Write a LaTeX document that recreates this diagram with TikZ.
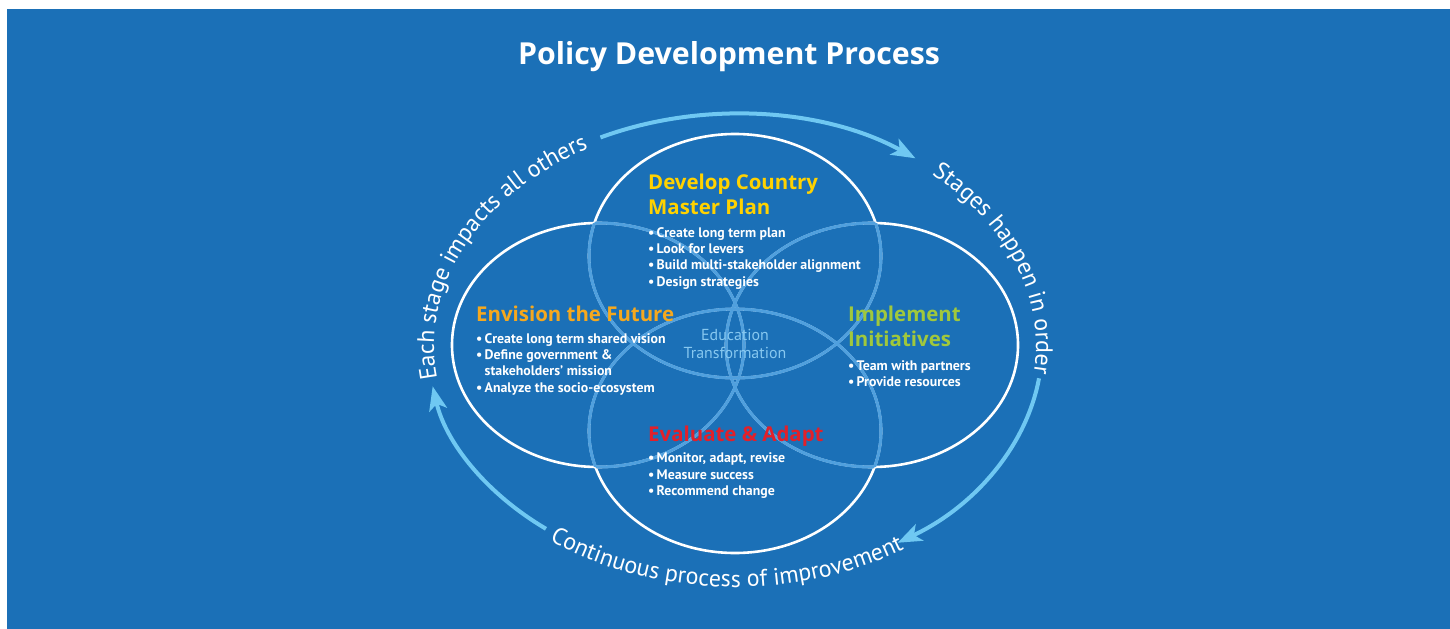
\documentclass[tikz,border=0pt]{standalone}
\usepackage{fontspec}
\setmainfont{PT Sans}
\newfontfamily\headfont{Open Sans}
\usetikzlibrary{positioning,calc,arrows.meta,decorations.text}
\definecolor{bgblue}{RGB}{27,112,183}
\definecolor{arrowblue}{RGB}{111,200,242}
\definecolor{innerblue}{RGB}{80,160,222}
\definecolor{edublue}{RGB}{135,200,240}
\definecolor{headyellow}{RGB}{255,210,0}
\definecolor{headorange}{RGB}{245,168,30}
\definecolor{headgreen}{RGB}{160,200,60}
\definecolor{headred}{RGB}{226,32,42}
\newcommand{\bul}{\makebox[8.5bp][l]{\textbullet}}
\newcommand{\bulgap}{\hspace*{8.5bp}}
\begin{document}
\begin{tikzpicture}[
    x=1bp, y=-1bp,
    petal/.style={x radius=146, y radius=122},
    outline/.style={draw=white, line width=2.6bp},
    inner/.style={draw=innerblue, line width=3bp},
    flow/.style={draw=arrowblue, line width=4bp, -{Stealth[length=24bp,width=18bp,inset=6bp]}},
    head/.style={font=\headfont\bfseries\fontsize{20.5}{25}\selectfont, align=left, inner sep=0pt, anchor=north west},
    items/.style={font=\bfseries\fontsize{13.9}{16.4}\selectfont, text=white, align=left, inner sep=0pt},
    curved/.style={decorate, decoration={text along path, text align=center, text color=white,
        text={|\fontsize{24}{24}\selectfont|#1}}}
  ]
  % Frame
  \fill[white] (0,0) rectangle (1450,629);
  \fill[bgblue] (7,9) rectangle (1450,629);
  \useasboundingbox (0,0) rectangle (1450,629);

  \node[font=\headfont\bfseries\fontsize{30.4}{30.4}\selectfont, text=white] (title) at (729,57) {Policy Development Process};

  % Petals
  \coordinate (ctr) at (735,346);
  \coordinate (cTop) at (735,256);
  \coordinate (cBot) at (735,431);
  \coordinate (cLeft) at (598,345);
  \coordinate (cRight) at (872,345);
  \foreach \p in {cTop,cLeft,cRight,cBot}
    \draw[outline] (\p) ellipse [petal];
  \foreach \me/\a/\b/\o in {cTop/cLeft/cRight/cBot, cLeft/cTop/cRight/cBot,
                            cRight/cTop/cLeft/cBot, cBot/cTop/cLeft/cRight}{
    \begin{scope}
      \clip (\a) ellipse [petal] (\b) ellipse [petal] (\o) ellipse [petal];
      \draw[inner] (\me) ellipse [petal];
    \end{scope}
  }

  % Stages
  \node[head, text=headyellow] (devH) at (648,174) {Develop Country\\Master Plan};
  \node[items, below=12bp of devH.south west, anchor=north west] (devL)
    {\bul Create long term plan\\\bul Look for levers\\\bul Build multi-stakeholder alignment\\\bul Design strategies};
  \node[head, text=headorange] (envH) at (476,306) {Envision the Future};
  \node[items, below=11bp of envH.south west, anchor=north west] (envL)
    {\bul Create long term shared vision\\\bul Define government \&\\\bulgap stakeholders’ mission\\\bul Analyze the socio-ecosystem};
  \node[head, text=headgreen] (impH) at (848,306) {Implement\\Initiatives};
  \node[items, below=13bp of impH.south west, anchor=north west] (impL)
    {\bul Team with partners\\\bul Provide resources};
  \node[head, text=headred] (evaH) at (648,426) {Evaluate \& Adapt};
  \node[items, below=6bp of evaH.south west, anchor=north west] (evaL)
    {\bul Monitor, adapt, revise\\\bul Measure success\\\bul Recommend change};
  \node[font=\fontsize{16}{17.5}\selectfont, text=edublue, align=center] (edu) at (735,344) {Education\\Transformation};

  % Cycle
  \draw[flow] ($(ctr)+(244:307 and 232)$) arc [start angle=244, end angle=306, x radius=307, y radius=232];
  \draw[flow] ($(ctr)+(8:307 and 232)$) arc [start angle=8, end angle=58, x radius=307, y radius=232];
  \draw[flow] ($(ctr)+(128:307 and 232)$) arc [start angle=128, end angle=170, x radius=307, y radius=232];
  \path[curved={Each stage impacts all others}] ($(ctr)+(148:301 and 226)$) arc [start angle=148, end angle=260, x radius=301, y radius=226];
  \path[curved={Stages happen in order}] ($(ctr)+(289:301 and 226)$) arc [start angle=289, end angle=393, x radius=301, y radius=226];
  \path[curved={Continuous process of improvement}] ($(ctr)+(150:314 and 241)$) arc [start angle=150, end angle=34, x radius=314, y radius=241];
\end{tikzpicture}
\end{document}
